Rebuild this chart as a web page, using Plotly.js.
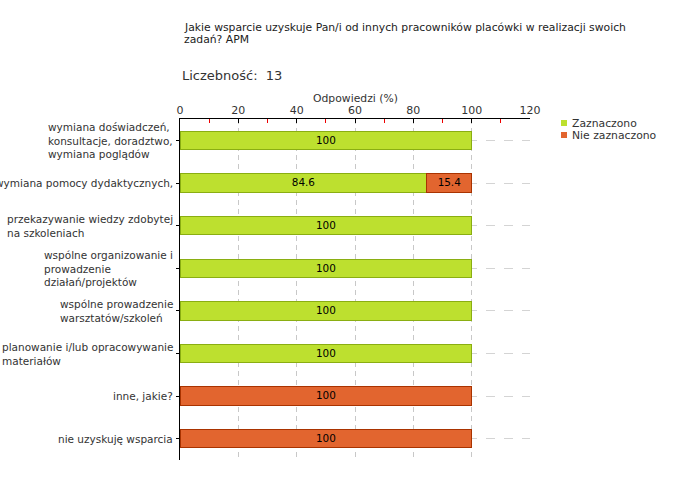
<!DOCTYPE html>
<html><head><meta charset="utf-8">
<script src="https://cdn.plot.ly/plotly-3.0.1.min.js"></script>
<style>body{margin:0;background:#fff}#c{width:680px;height:480px}</style>
</head><body><div id="c"></div>
<script>
const categories = [
  "wymiana doświadczeń,<br>konsultacje, doradztwo,<br>wymiana poglądów",
  "wymiana pomocy dydaktycznych,",
  "przekazywanie wiedzy zdobytej<br>na szkoleniach",
  "wspólne organizowanie i<br>prowadzenie<br>działań/projektów",
  "wspólne prowadzenie<br>warsztatów/szkoleń",
  "planowanie i/lub opracowywanie<br>materiałów",
  "inne, jakie?",
  "nie uzyskuję wsparcia"
];
const zaznaczono = [100, 84.6, 100, 100, 100, 100, null, null];
const nieZaznaczono = [null, 15.4, null, null, null, null, 100, 100];
const seriesNames = ["Zaznaczono", "Nie zaznaczono"];
const seriesColors = ["#BDE02F", "#E2652F"];
const seriesBorders = ["#8AAE12", "#A93300"];
const titleLines = ["Jakie wsparcie uzyskuje Pan/i od innych pracowników placówki w realizacji swoich", "zadań? APM"];
const countText = "Liczebność:  13";
const xTitle = "Odpowiedzi (%)";

const font = "DejaVu Sans, sans-serif";
const fmt = v => v == null ? "" : String(v);
const series = [zaznaczono, nieZaznaczono];

const traces = series.map((vals, k) => ({
  type:"bar", orientation:"h", name:seriesNames[k], y:categories, x:vals, showlegend:false,
  text:vals.map(fmt), textposition:"inside", insidetextanchor:"middle",
  textfont:{color:"#000", size:11, family:font},
  marker:{color:seriesColors[k], line:{color:seriesBorders[k], width:1}}
}));

const annotations = [];
titleLines.forEach((t, i) => annotations.push({
  text:t, xref:"paper", yref:"paper", x:0.006, y:1.0, xanchor:"left", yanchor:"middle",
  yshift:92 - i*12, showarrow:false, align:"left", font:{size:10.8, color:"#222"}
}));
annotations.push({text:countText, xref:"paper", yref:"paper", x:0.0, y:1.0, xanchor:"left", yanchor:"middle",
  yshift:44, showarrow:false, align:"left", font:{size:13, color:"#333"}});
annotations.push({text:xTitle, xref:"paper", yref:"paper", x:0.5, y:1.0, xanchor:"center", yanchor:"middle",
  yshift:21, showarrow:false, font:{size:10.8, color:"#333"}});
categories.forEach((c, i) => annotations.push({
  text:c, xref:"paper", yref:"y", x:0, y:i, xanchor:"right", yanchor:"middle", xshift:-5,
  showarrow:false, align:"left", font:{size:10.5, color:"#333"}
}));
seriesNames.forEach((n, k) => {
  annotations.push({text:n, xref:"paper", yref:"paper", x:1.0, y:1.0, xanchor:"left", yanchor:"middle",
    xshift:40, yshift:-4 - k*12, showarrow:false, align:"left", font:{size:10.8, color:"#333"}});
});

const layout = {
  width:680, height:480,
  margin:{l:180, r:150, t:119, b:20, autoexpand:false},
  paper_bgcolor:"#fff", plot_bgcolor:"#fff",
  barmode:"stack", bargap:0.57,
  font:{family:font, size:11, color:"#333"},
  showlegend:false,
  xaxis:{side:"top", range:[0,120], dtick:20, tick0:0, showline:true, linecolor:"#000", linewidth:1,
         ticks:"inside", ticklen:4, tickcolor:"#000",
         showgrid:true, gridcolor:"#c8c8c8", griddash:"5px,4px", gridwidth:1, zeroline:false,
         tickfont:{size:11, color:"#333"},
         minor:{dtick:10, ticks:"inside", ticklen:4, tickcolor:"#e00"}},
  yaxis:{autorange:"reversed", showline:true, linecolor:"#000", linewidth:1,
         ticks:"outside", ticklen:3, tickcolor:"#000", showticklabels:false,
         showgrid:true, gridcolor:"#d4d4d4", griddash:"dash", automargin:false},
  annotations:annotations,
  shapes:seriesNames.map((n, k) => ({type:"rect", xref:"paper", yref:"paper",
    xsizemode:"pixel", ysizemode:"pixel", xanchor:1.0, yanchor:1.0,
    x0:31, x1:37, y0:-1 - k*12, y1:-7 - k*12,
    fillcolor:seriesColors[k], line:{width:0}}))
};
Plotly.newPlot("c", traces, layout, {displayModeBar:false, staticPlot:true});
</script></body></html>
